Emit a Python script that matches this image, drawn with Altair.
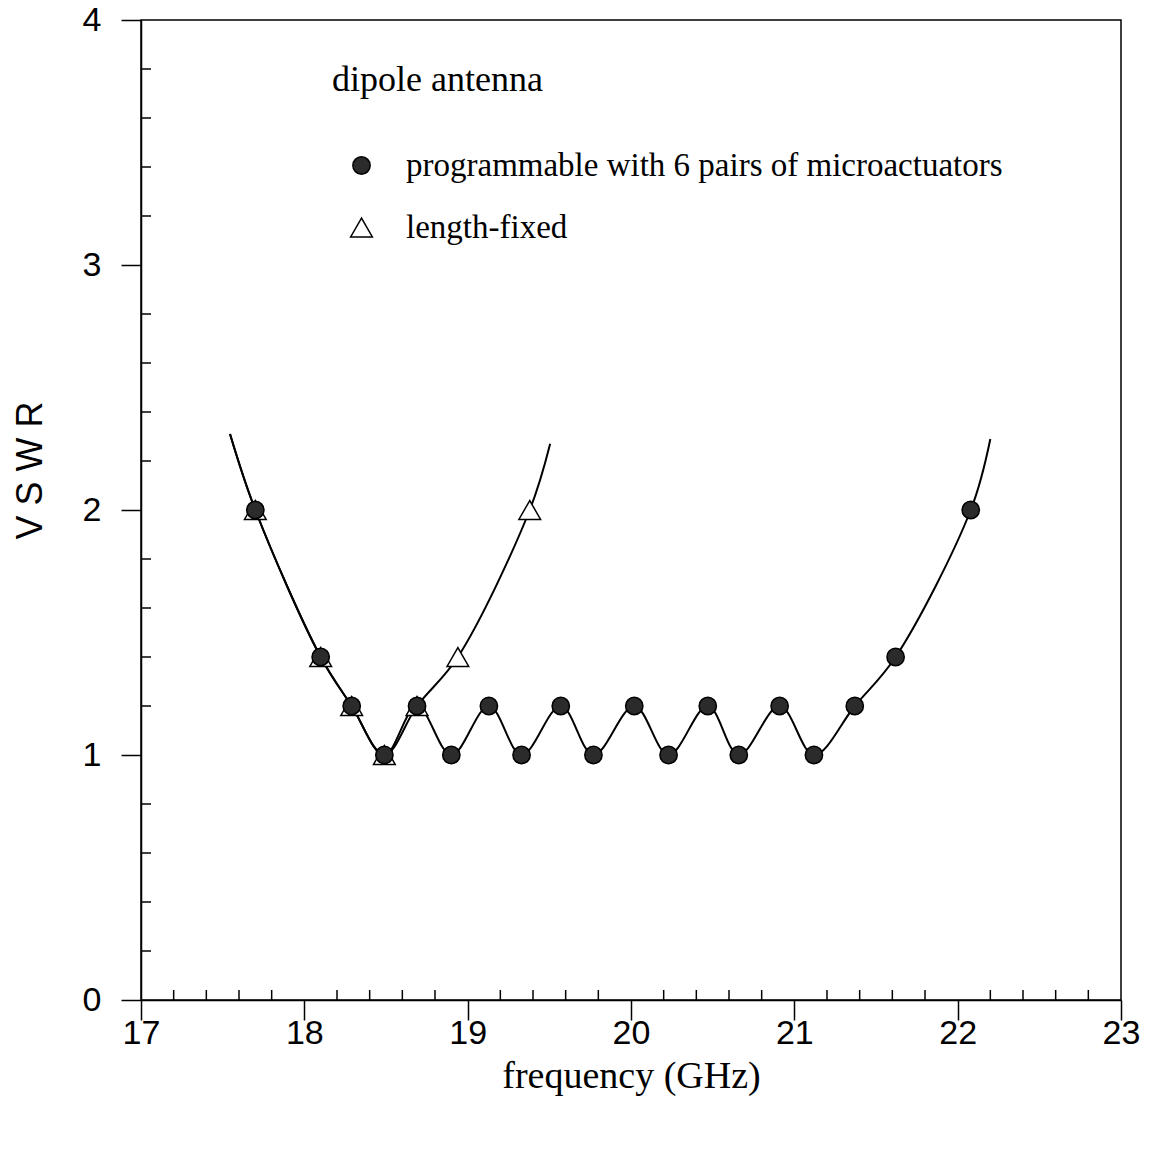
import altair as alt
import pandas as pd

# ---- data ----
prog_label = "programmable with 6 pairs of microactuators"
fixed_label = "length-fixed"

prog_freq = [17.70, 18.10, 18.29, 18.49, 18.69, 18.90, 19.13, 19.33, 19.57, 19.77,
             20.02, 20.23, 20.47, 20.66, 20.91, 21.12, 21.37, 21.62, 22.08]
prog_vswr = [2.0, 1.4, 1.2, 1.0, 1.2, 1.0, 1.2, 1.0, 1.2, 1.0,
             1.2, 1.0, 1.2, 1.0, 1.2, 1.0, 1.2, 1.4, 2.0]

fixed_freq = [17.70, 18.10, 18.29, 18.49, 18.69, 18.94, 19.38]
fixed_vswr = [2.0, 1.4, 1.2, 1.0, 1.2, 1.4, 2.0]

# curve ends (line continues past the first/last measured points)
prog_line_start = (17.545, 2.31)
prog_line_end = (22.20, 2.29)
fixed_line_start = (17.545, 2.31)
fixed_line_end = (19.505, 2.27)

x_major = [17, 18, 19, 20, 21, 22, 23]
y_major = [0, 1, 2, 3, 4]
x_minor = [round(17 + 0.2 * i, 1) for i in range(1, 30) if i % 5 != 0]
y_minor = [round(0.2 * i, 1) for i in range(1, 20) if i % 5 != 0]

note_text = ["dipole antenna"]
note_x = [18.17]
note_y = [3.755]

# ---- tables ----
points = pd.DataFrame({
    "freq": fixed_freq + prog_freq,
    "vswr": fixed_vswr + prog_vswr,
    "series": [fixed_label] * len(fixed_freq) + [prog_label] * len(prog_freq),
})

lines = pd.DataFrame({
    "freq": [prog_line_start[0]] + prog_freq + [prog_line_end[0]]
            + [fixed_line_start[0]] + fixed_freq + [fixed_line_end[0]],
    "vswr": [prog_line_start[1]] + prog_vswr + [prog_line_end[1]]
            + [fixed_line_start[1]] + fixed_vswr + [fixed_line_end[1]],
    "series": [prog_label] * (len(prog_freq) + 2) + [fixed_label] * (len(fixed_freq) + 2),
})

xminor_df = pd.DataFrame({"freq": x_minor})
yminor_df = pd.DataFrame({"vswr": y_minor})
note_df = pd.DataFrame({"freq": note_x, "vswr": note_y, "text": note_text})

SANS = "Liberation Sans"
SERIF = "Liberation Serif"

xscale = alt.Scale(domain=[17, 23], nice=False, zero=False)
yscale = alt.Scale(domain=[0, 4], nice=False, zero=False)

xaxis = alt.Axis(
    values=x_major, format="d", tickSize=20, tickWidth=1.5, tickColor="black",
    domainColor="black", domainWidth=1.5, grid=False,
    labelFont=SANS, labelFontSize=34, labelColor="black", labelPadding=-4,
    labelFlush=False, labelOverlap=False,
    title="frequency (GHz)", titleFont=SERIF, titleFontSize=38,
    titleFontWeight="normal", titleColor="black", titleY=76, titleBaseline="middle",
)
yaxis = alt.Axis(
    values=y_major, format="d", tickSize=20, tickWidth=1.5, tickColor="black",
    domainColor="black", domainWidth=1.5, grid=False,
    labelFont=SANS, labelFontSize=34, labelColor="black", labelPadding=20,
    labelFlush=False, labelOverlap=False,
    title="V S W R", titleFont=SANS, titleFontSize=36, titleFontWeight="normal",
    titleColor="black", titleX=-111, titleY=450, titleAngle=270,
    titleBaseline="middle", titleAlign="center",
)

legend = alt.Legend(
    orient="none", legendX=204, legendY=129, title=None,
    labelFont=SERIF, labelFontSize=33, labelColor="black", labelLimit=0,
    symbolStrokeColor="black", symbolStrokeWidth=1.5,
    rowPadding=28, labelOffset=28, padding=0,
)

series_domain = [prog_label, fixed_label]

line_layer = alt.Chart(lines).mark_line(
    interpolate="catmull-rom", color="black", strokeWidth=2
).encode(
    x=alt.X("freq:Q", scale=xscale, axis=xaxis),
    y=alt.Y("vswr:Q", scale=yscale, axis=yaxis),
    detail="series:N",
)

point_layer = alt.Chart(points).mark_point(
    filled=True, opacity=1, strokeWidth=1.5
).encode(
    x=alt.X("freq:Q", scale=xscale),
    y=alt.Y("vswr:Q", scale=yscale),
    shape=alt.Shape("series:N", scale=alt.Scale(domain=series_domain,
                    range=["circle", "triangle-up"]), legend=legend),
    fill=alt.Fill("series:N", scale=alt.Scale(domain=series_domain,
                  range=["#2b2b2b", "white"]), legend=legend),
    stroke=alt.Stroke("series:N", scale=alt.Scale(domain=series_domain,
                      range=["black", "black"]), legend=legend),
    size=alt.Size("series:N", scale=alt.Scale(domain=series_domain,
                  range=[300, 470]), legend=legend),
)

xminor_layer = alt.Chart(xminor_df).mark_rule(color="black", strokeWidth=1.5).encode(
    x=alt.X("freq:Q", scale=xscale),
    y=alt.value(970), y2=alt.value(980),
)
yminor_layer = alt.Chart(yminor_df).mark_rule(color="black", strokeWidth=1.5).encode(
    y=alt.Y("vswr:Q", scale=yscale),
    x=alt.value(0), x2=alt.value(10),
)

note_layer = alt.Chart(note_df).mark_text(
    align="left", baseline="middle", font=SERIF, fontSize=36, color="black"
).encode(
    x=alt.X("freq:Q", scale=xscale),
    y=alt.Y("vswr:Q", scale=yscale),
    text="text:N",
)

chart = alt.layer(
    line_layer, xminor_layer, yminor_layer, point_layer, note_layer
).properties(
    width=980, height=980,
    autosize=alt.AutoSizeParams(type="none"),
    padding={"left": 141, "top": 20, "right": 30, "bottom": 154},
    background="white",
).configure_view(
    stroke="black", strokeWidth=1.5
)

chart.save("out.html", embed_options={"renderer": "svg", "actions": False})
